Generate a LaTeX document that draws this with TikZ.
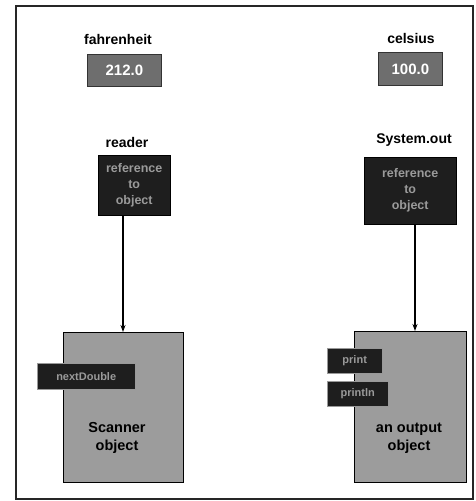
\documentclass[tikz,border=0pt]{standalone}
\usepackage{fontspec}
\setmainfont{Liberation Sans}
\usetikzlibrary{arrows.meta}
\definecolor{valgray}{HTML}{6E6E6E}
\definecolor{objgray}{HTML}{9C9C9C}
\definecolor{refdark}{HTML}{1E1E1E}
\definecolor{reftext}{HTML}{9A9A9A}
\begin{document}
\begin{tikzpicture}[x=1pt,y=-1pt,
  lbl/.style={font=\bfseries\fontsize{14}{16}\selectfont, text=black, inner sep=0pt},
  valbox/.style={draw=black!80, line width=0.8pt, fill=valgray, text=white,
    font=\bfseries\fontsize{15}{17}\selectfont, inner sep=0pt, anchor=north west},
  refbox/.style={fill=refdark, draw=black, text=reftext, align=center,
    font=\bfseries\fontsize{12.5}{16}\selectfont, inner sep=0pt, anchor=north west},
  objbox/.style={draw=black, line width=0.8pt, fill=objgray, inner sep=0pt, anchor=north west},
  objtext/.style={font=\bfseries\fontsize{14.5}{18}\selectfont, align=center, text=black, inner sep=0pt},
  methbox/.style={fill=refdark, draw=white!60!black, line width=0.4pt, text=reftext,
    font=\bfseries\fontsize{11}{13}\selectfont, inner sep=0pt, anchor=north west},
  conn/.style={draw=black, line width=1.1pt, -{Stealth[length=7pt,width=5pt]}}]
\useasboundingbox (0,0) rectangle (476,501);
\fill[white] (0,0) rectangle (476,501);
\draw[line width=1.3pt, black!85] (16,6) rectangle (473,499);

% values
\node[lbl] (fl) at (118,39) {fahrenheit};
\node[valbox, minimum width=74pt, minimum height=32pt] (fv) at (87,54) {212.0};
\node[lbl] (cl) at (411,38) {celsius};
\node[valbox, minimum width=64pt, minimum height=33pt] (cv) at (378,52) {100.0};

% references
\node[lbl] (rl) at (127,142) {reader};
\node[refbox, minimum width=72pt, minimum height=60pt] (rr) at (98,155) {reference\\to\\object};
\node[lbl] (sl) at (414,140) {System.out};
\node[refbox, minimum width=92pt, minimum height=67pt] (sr) at (364,157) {reference\\to\\object};

% objects
\node[objbox, minimum width=120pt, minimum height=150pt] (so) at (63,332) {};
\node[objtext] (st) at (117,438) {Scanner\\object};
\node[methbox, minimum width=98pt, minimum height=26pt] (nd) at (37,363) {nextDouble};

\node[objbox, minimum width=112pt, minimum height=151pt] (oo) at (354,331) {};
\node[objtext] (ot) at (409,438) {an output\\object};
\node[methbox, minimum width=55pt, minimum height=25pt] (pr) at (327,348) {print};
\node[methbox, minimum width=61pt, minimum height=25pt] (pl) at (327,381) {println};

% connectors
\coordinate (rs) at (123,213);
\coordinate (re) at (123,332);
\draw[conn] (rr.south -| rs) -- (so.north -| re);
\draw[conn] (sr.south -| 415,0) -- (oo.north -| 415,0);
\end{tikzpicture}
\end{document}
